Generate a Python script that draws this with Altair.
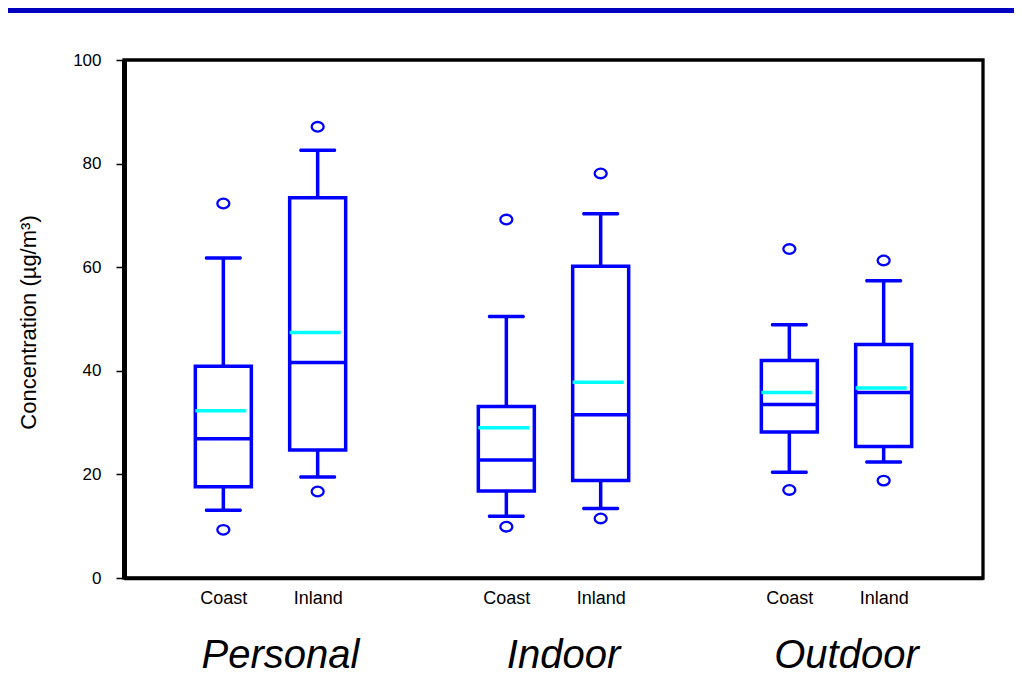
import altair as alt
import pandas as pd

# ---- data (µg/m³) ----
groups = ["Personal", "Indoor", "Outdoor"]
sites = ["Coast", "Inland"]
lower_whisker = [13.1, 19.5, 11.9, 13.4, 20.4, 22.4]
q1 = [17.6, 24.7, 16.8, 18.8, 28.2, 25.4]
median = [26.9, 41.6, 22.8, 31.5, 33.5, 35.8]
mean = [32.3, 47.4, 29.0, 37.8, 35.8, 36.7]
q3 = [40.9, 73.4, 33.1, 60.2, 42.0, 45.1]
upper_whisker = [61.8, 82.6, 50.5, 70.3, 48.9, 57.4]
outlier_low = [9.3, 16.7, 9.9, 11.5, 17.0, 18.8]
outlier_high = [72.3, 87.1, 69.2, 78.1, 63.5, 61.3]
y_ticks = [0, 20, 40, 60, 80, 100]

rows = []
out_rows = []
for gi, g in enumerate(groups):
    for si, s in enumerate(sites):
        k = gi * len(sites) + si
        pos = gi * 3 + si + 1
        rows.append(dict(group=g, site=s, pos=pos, lo=lower_whisker[k], q1=q1[k],
                         med=median[k], mean=mean[k], q3=q3[k], hi=upper_whisker[k]))
        out_rows.append(dict(pos=pos, v=outlier_low[k]))
        out_rows.append(dict(pos=pos, v=outlier_high[k]))
df = pd.DataFrame(rows)
odf = pd.DataFrame(out_rows)
gdf = pd.DataFrame({"group": groups, "pos": [gi * 3 + 1.5 for gi in range(len(groups))]})

W, H = 859, 518
BLUE = "#0000FF"
FONT = "Liberation Sans"
tick_positions = df["pos"].tolist()

x_enc = alt.X("pos:Q", scale=alt.Scale(domain=[0, 9], nice=False, zero=False),
              axis=alt.Axis(values=tick_positions,
                            labelExpr=f"datum.value % 3 == 1 ? '{sites[0]}' : '{sites[1]}'",
                            ticks=False, grid=False, title=None, labelFontSize=18,
                            labelFont=FONT, labelColor="#000000", labelPadding=11,
                            domainColor="#000000", domainWidth=3.3, labelFlush=False,
                            labelOverlap=False))
y_scale = alt.Scale(domain=[0, 100], nice=False, zero=True)
y_axis = alt.Axis(values=y_ticks, grid=False, title="Concentration (µg/m³)",
                  labelFontSize=17, labelFont=FONT, labelColor="#000000",
                  labelPadding=15, tickSize=8, tickWidth=1.5, tickColor="#000000",
                  domainColor="#000000", domainWidth=5,
                  titleFont=FONT, titleFontSize=22, titleFontWeight="normal",
                  titleColor="#000000", titleAngle=270, titleX=-89, titleY=262,
                  titleAlign="center", titleBaseline="alphabetic")

base = alt.Chart(df)

box = base.mark_bar(size=56, fill="white", stroke=BLUE, strokeWidth=3.5,
                    opacity=1).encode(
    x=x_enc, y=alt.Y("q1:Q", scale=y_scale, axis=y_axis), y2="q3:Q")
w_up = base.mark_rule(color=BLUE, strokeWidth=3.5).encode(
    x="pos:Q", y="q3:Q", y2="hi:Q")
w_dn = base.mark_rule(color=BLUE, strokeWidth=3.5).encode(
    x="pos:Q", y="lo:Q", y2="q1:Q")
cap_up = base.mark_tick(orient="horizontal", size=37, thickness=3.5, color=BLUE,
                        opacity=1, cornerRadius=1.5).encode(x="pos:Q", y="hi:Q")
cap_dn = base.mark_tick(orient="horizontal", size=37, thickness=3.5, color=BLUE,
                        opacity=1, cornerRadius=1.5).encode(x="pos:Q", y="lo:Q")
med = base.mark_tick(orient="horizontal", size=56, thickness=3.5, color=BLUE,
                     opacity=1).encode(x="pos:Q", y="med:Q")
mn = base.mark_tick(orient="horizontal", size=51, thickness=3.5, color="#00FFFF",
                    opacity=1, xOffset=-2.5).encode(x="pos:Q", y="mean:Q")

ellipse = "M-1,0A1,0.8,0,1,1,1,0A1,0.8,0,1,1,-1,0Z"
outl = alt.Chart(odf).mark_point(shape=ellipse, size=144, filled=False, stroke=BLUE,
                                 strokeWidth=2.3, opacity=1).encode(x="pos:Q", y="v:Q")

glab = alt.Chart(gdf).mark_text(fontSize=40, fontStyle="italic", font=FONT,
                                color="#000000", baseline="alphabetic", align="center",
                                dx=10).encode(
    x="pos:Q", y=alt.value(608), text="group:N")

band = alt.Chart(pd.DataFrame({"k": [0]})).mark_rect(color="#0000C0").encode(
    x=alt.value(-116), x2=alt.value(W + 31), y=alt.value(-52), y2=alt.value(-47))

chart = alt.layer(band, w_up, w_dn, cap_up, cap_dn, box, med, mn, outl, glab).properties(
    width=W, height=H,
    autosize=alt.AutoSizeParams(type="none"),
    padding={"left": 116, "top": 52, "right": 31, "bottom": 100},
    background="white",
).configure_view(stroke="#000000", strokeWidth=3.3)

chart.save("out.html", embed_options={"renderer": "svg", "actions": False})
